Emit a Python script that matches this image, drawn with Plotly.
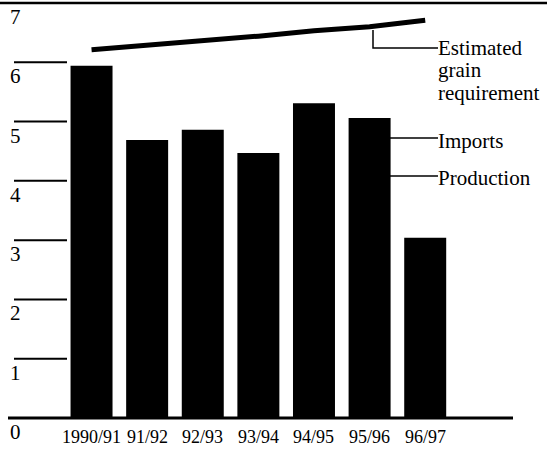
import plotly.graph_objects as go

# Data (million tonnes)
seasons = ["1990/91", "91/92", "92/93", "93/94", "94/95", "95/96", "96/97"]
total_supply = [5.94, 4.69, 4.86, 4.47, 5.31, 5.06, 3.04]  # imports + production (all bars black in scan)
grain_requirement = [6.21, 6.28, 6.37, 6.44, 6.53, 6.60, 6.71]
y_ticks = [0, 1, 2, 3, 4, 5, 6, 7]

FONT = "Liberation Serif, Times New Roman, serif"
W, H = 547, 449

fig = go.Figure()
fig.add_trace(go.Bar(
    x=list(range(len(seasons))), y=total_supply, width=0.755,
    marker=dict(color="black", line=dict(width=0)), showlegend=False,
))
fig.add_trace(go.Scatter(
    x=list(range(len(seasons))), y=grain_requirement, mode="lines",
    line=dict(color="black", width=5), showlegend=False,
))

shapes = []
annotations = []
for v in y_ticks:
    if v == 7:
        shapes.append(dict(type="line", xref="paper", yref="y", x0=0, x1=1, y0=v, y1=v,
                           line=dict(color="black", width=2.5)))
    elif v == 0:
        shapes.append(dict(type="line", xref="paper", yref="y", x0=8 / W, x1=513 / W, y0=v, y1=v,
                           line=dict(color="black", width=3)))
    else:
        shapes.append(dict(type="line", xref="paper", yref="y", x0=14 / W, x1=67 / W, y0=v, y1=v,
                           line=dict(color="black", width=2)))
    annotations.append(dict(text=str(v), xref="paper", yref="y", x=8 / W, y=v, yshift=-14,
                             xanchor="left", yanchor="middle", showarrow=False,
                             font=dict(family=FONT, size=21, color="black")))

# category labels under the bars
for i, s in enumerate(seasons):
    annotations.append(dict(text=s, xref="x", yref="y", x=i, y=0, yshift=-19,
                            xanchor="center", yanchor="middle", showarrow=False,
                            font=dict(family=FONT, size=18, color="black")))

# leader lines (data units on y)
def yv(py):
    return (418 - py) / 59.3

shapes.append(dict(type="path", xref="paper", yref="y",
                   path=f"M {373/W},{yv(30)} L {373/W},{yv(48)} L {438/W},{yv(48)}",
                   line=dict(color="black", width=1.5)))
shapes.append(dict(type="line", xref="paper", yref="y", x0=390 / W, x1=438 / W,
                   y0=yv(138), y1=yv(138), line=dict(color="black", width=1.5)))
shapes.append(dict(type="line", xref="paper", yref="y", x0=390 / W, x1=438 / W,
                   y0=yv(176), y1=yv(176), line=dict(color="black", width=1.5)))

for txt, py in [("Estimated", 48), ("grain", 70), ("requirement", 93),
                ("Imports", 141), ("Production", 178)]:
    annotations.append(dict(text=txt, xref="paper", yref="y", x=437 / W, y=yv(py),
                            xanchor="left", yanchor="middle", showarrow=False, borderpad=0,
                            font=dict(family=FONT, size=21, color="black")))

fig.update_layout(
    width=W, height=H,
    margin=dict(l=0, r=0, t=0, b=25),
    paper_bgcolor="white", plot_bgcolor="white",
    hovermode=False,
    xaxis=dict(range=[-1.646, 8.19], showgrid=False, zeroline=False, showline=False,
               showticklabels=False, ticks="", automargin=False, fixedrange=True),
    yaxis=dict(range=[-0.1, 7.05], showgrid=False, zeroline=False, showline=False,
               showticklabels=False, ticks="", automargin=False, fixedrange=True),
    shapes=shapes, annotations=annotations,
)

fig.write_html("out.html", config={"displayModeBar": False},
               post_script="document.body.style.margin='0';")
